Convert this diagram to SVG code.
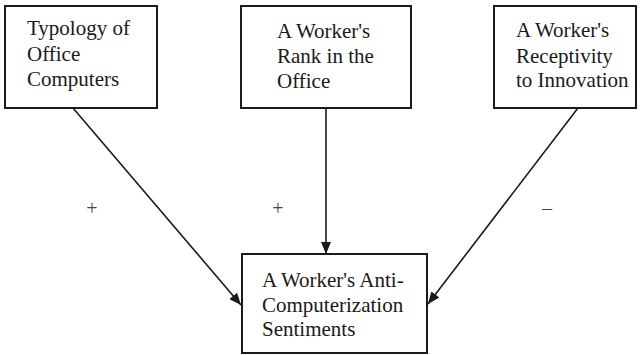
<svg xmlns="http://www.w3.org/2000/svg" width="640" height="355" viewBox="0 0 640 355">
  <style>
    .box { fill: #fff; stroke: #1a1a1a; stroke-width: 2; }
    .label { font-family: "Liberation Serif", "Times New Roman", serif; font-size: 21px; fill: #1a1a1a; }
    .sign { font-family: "Liberation Serif", "Times New Roman", serif; font-size: 20px; fill: #444; text-anchor: middle; }
    .link { stroke: #1a1a1a; stroke-width: 1.6; fill: none; marker-end: url(#arrow); }
  </style>
  <defs>
    <marker id="arrow" viewBox="0 0 12 10" refX="12" refY="5" markerWidth="12" markerHeight="10" markerUnits="userSpaceOnUse" orient="auto">
      <path d="M0,0 L12,5 L0,10 Z" fill="#1a1a1a"/>
    </marker>
  </defs>

  <rect width="640" height="355" fill="#fff"/>

  <g id="connectors">
    <line class="link" x1="73" y1="108" x2="241" y2="305"/>
    <line class="link" x1="326" y1="108" x2="326" y2="254"/>
    <line class="link" x1="578" y1="108" x2="428" y2="304"/>
    <text class="sign" x="92" y="215">+</text>
    <text class="sign" x="278" y="215">+</text>
    <text class="sign" x="547" y="215">–</text>
  </g>

  <g id="node-typology">
    <rect class="box" x="5" y="6" width="152" height="102"/>
    <text class="label" x="27" y="35">Typology of</text>
    <text class="label" x="27" y="61">Office</text>
    <text class="label" x="27" y="86">Computers</text>
  </g>

  <g id="node-rank">
    <rect class="box" x="241" y="6" width="170" height="102"/>
    <text class="label" x="277" y="38">A Worker's</text>
    <text class="label" x="277" y="63">Rank in the</text>
    <text class="label" x="277" y="88">Office</text>
  </g>

  <g id="node-receptivity">
    <rect class="box" x="494" y="6" width="142" height="102"/>
    <text class="label" x="516" y="37">A Worker's</text>
    <text class="label" x="516" y="63">Receptivity</text>
    <text class="label" x="516" y="87">to Innovation</text>
  </g>

  <g id="node-sentiments">
    <rect class="box" x="242" y="254" width="185" height="99"/>
    <text class="label" x="262" y="287">A Worker's Anti-</text>
    <text class="label" x="262" y="312">Computerization</text>
    <text class="label" x="262" y="336">Sentiments</text>
  </g>
</svg>
